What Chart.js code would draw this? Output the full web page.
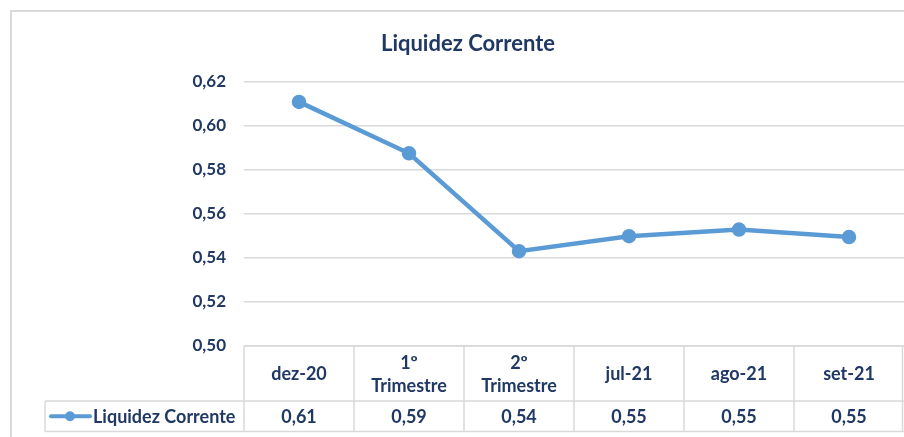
<!DOCTYPE html>
<html>
<head>
<meta charset="utf-8">
<script src="https://cdn.jsdelivr.net/npm/chart.js@4.4.0/dist/chart.umd.min.js"></script>
<style>
  html, body { margin: 0; padding: 0; background: #ffffff; }
  #wrap { width: 904px; height: 437px; position: relative; }
</style>
</head>
<body>
<div id="wrap"><canvas id="c" width="904" height="437"></canvas></div>
<script>
const chartTitle = "Liquidez Corrente";
const seriesName = "Liquidez Corrente";
const categories = ["dez-20", ["1º", "Trimestre"], ["2º", "Trimestre"], "jul-21", "ago-21", "set-21"];
const values = [0.6107, 0.5874, 0.5430, 0.5498, 0.5528, 0.5494];
const yTicks = [0.50, 0.52, 0.54, 0.56, 0.58, 0.60, 0.62];

const NAVY = "#1F3864";
const LINE = "#5B9BD5";
const GRID = "#D9D9D9";
const FONT = "Lato, 'Open Sans', sans-serif";

const fmt = v => v.toFixed(2).replace(".", ",");

const framePlugin = {
  id: "frame",
  beforeDraw(chart) {
    const ctx = chart.ctx;
    ctx.save();
    ctx.fillStyle = "#fff";
    ctx.fillRect(0, 0, chart.width, chart.height);
    ctx.strokeStyle = GRID;
    ctx.lineWidth = 2;
    ctx.beginPath();
    ctx.moveTo(11, chart.height + 5);
    ctx.lineTo(11, 11);
    ctx.lineTo(chart.width + 5, 11);
    ctx.stroke();
    ctx.restore();
  }
};

const tablePlugin = {
  id: "dataTable",
  afterDraw(chart) {
    const ctx = chart.ctx;
    const xs = chart.scales.x;
    const area = chart.chartArea;
    const n = categories.length;
    const step = xs.getPixelForValue(1) - xs.getPixelForValue(0);
    const top = area.bottom;
    const mid = top + 55;
    const bot = mid + 30.5;
    const legLeft = 45;
    ctx.save();
    ctx.strokeStyle = GRID;
    ctx.lineWidth = 1.5;
    ctx.beginPath();
    ctx.moveTo(area.left, top); ctx.lineTo(area.right, top);
    ctx.moveTo(legLeft, mid); ctx.lineTo(area.right, mid);
    ctx.moveTo(legLeft, bot); ctx.lineTo(area.right, bot);
    ctx.moveTo(legLeft, mid); ctx.lineTo(legLeft, bot);
    for (let i = 0; i <= n; i++) {
      let x = i < n ? xs.getPixelForValue(i) - step / 2 : xs.getPixelForValue(n - 1) + step / 2;
      if (i === n) x = Math.min(x, chart.width - 1.5);
      ctx.moveTo(x, top); ctx.lineTo(x, bot);
    }
    ctx.stroke();

    ctx.fillStyle = NAVY;
    ctx.font = "bold 18px " + FONT;
    ctx.textAlign = "center";
    ctx.textBaseline = "middle";
    for (let i = 0; i < n; i++) {
      const cx = xs.getPixelForValue(i);
      const lab = categories[i];
      const hc = (top + mid) / 2 + 1;
      if (Array.isArray(lab)) {
        const lh = 23;
        lab.forEach((t, k) => ctx.fillText(t, cx, hc - lh / 2 * (lab.length - 1) + k * lh));
      } else {
        ctx.fillText(lab, cx, hc);
      }
      ctx.fillText(fmt(values[i]), cx, (mid + bot) / 2 + 1);
    }
    const ly = (mid + bot) / 2;
    ctx.strokeStyle = LINE;
    ctx.lineWidth = 4;
    ctx.lineCap = "round";
    ctx.beginPath();
    ctx.moveTo(51, ly); ctx.lineTo(90, ly);
    ctx.stroke();
    ctx.fillStyle = LINE;
    ctx.beginPath();
    ctx.arc(70, ly, 5, 0, Math.PI * 2);
    ctx.fill();
    ctx.fillStyle = NAVY;
    ctx.textAlign = "left";
    ctx.fillText(seriesName, 93, ly + 1);
    ctx.restore();
  }
};

new Chart(document.getElementById("c"), {
  type: "line",
  data: {
    labels: categories.map(c => Array.isArray(c) ? c.join(" ") : c),
    datasets: [{
      label: seriesName,
      data: values,
      borderColor: LINE,
      backgroundColor: LINE,
      borderWidth: 4.5,
      pointRadius: 5,
      pointHoverRadius: 5,
      pointBackgroundColor: LINE,
      pointBorderColor: LINE,
      tension: 0,
      clip: false
    }]
  },
  options: {
    responsive: false,
    devicePixelRatio: 1,
    animation: false,
    layout: { autoPadding: false, padding: { left: 32, top: 31, right: 0, bottom: 91 } },
    plugins: {
      legend: { display: false },
      tooltip: { enabled: false },
      title: {
        display: true,
        text: chartTitle,
        color: NAVY,
        font: { family: FONT, size: 22, weight: "bold" },
        padding: { top: 0, bottom: 24 }
      }
    },
    scales: {
      x: {
        display: false,
        offset: true,
        grid: { display: false }
      },
      y: {
        min: 0.50,
        max: 0.62,
        afterBuildTicks(scale) { scale.ticks = yTicks.map(v => ({ value: v })); },
        afterFit(scale) { scale.width = 212; },
        border: { display: false },
        grid: { color: GRID, lineWidth: 1.5, drawTicks: false },
        ticks: {
          color: NAVY,
          padding: 18,
          font: { family: FONT, size: 17, weight: "bold" },
          callback: v => fmt(v)
        }
      }
    }
  },
  plugins: [framePlugin, tablePlugin]
});
</script>
</body>
</html>
